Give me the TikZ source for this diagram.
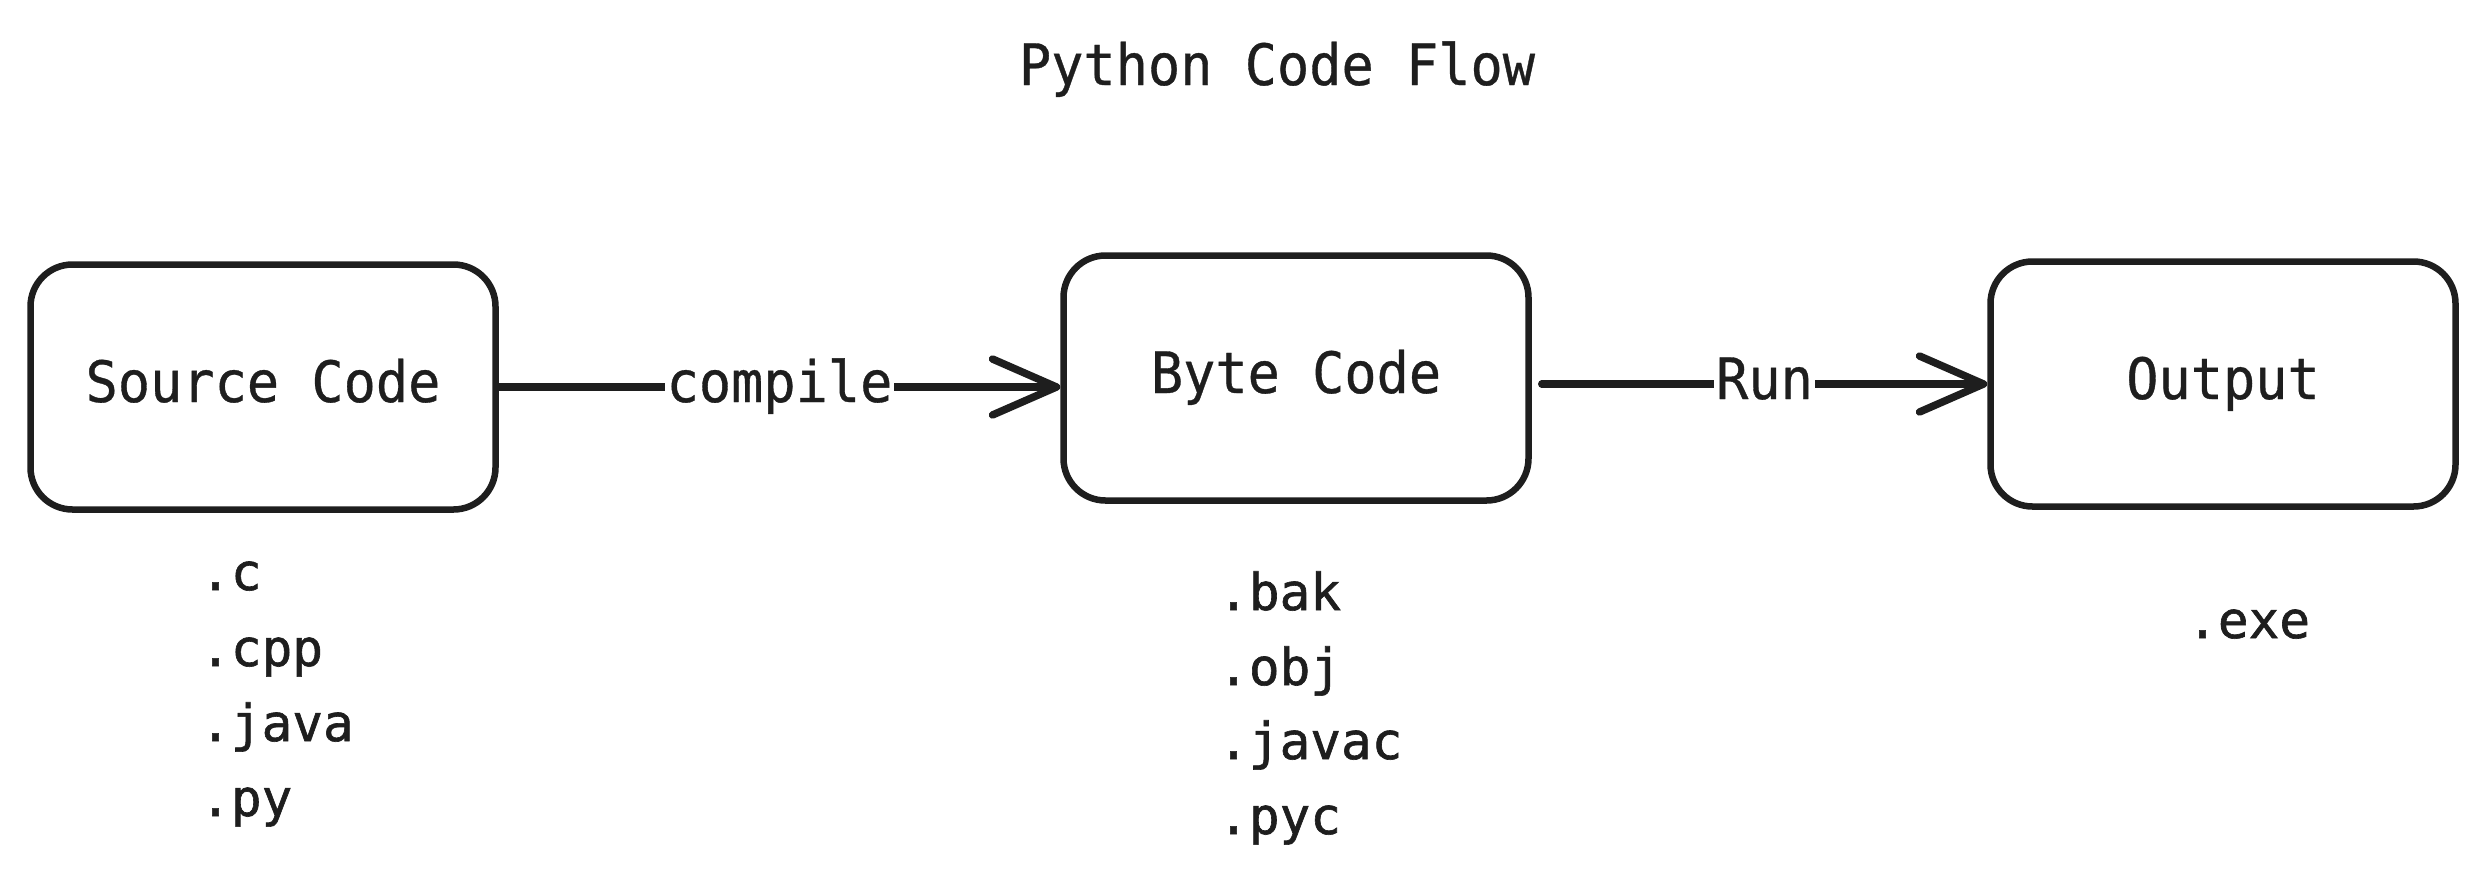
\documentclass[tikz,border=0pt]{standalone}
\usepackage{fontspec}
\usetikzlibrary{arrows.meta}
\newfontfamily\lblfont[FakeStretch=0.94,FakeBold=0.6]{DejaVu Sans Mono}
\newfontfamily\lstfont[FakeBold=1.2]{DejaVu Sans Mono}
\definecolor{ink}{HTML}{1E1E1E}
\tikzset{
  box/.style={draw=ink, line width=6.5pt, rounded corners=42pt, minimum width=465pt, minimum height=245pt, inner sep=0pt,
    font=\lblfont\fontsize{57}{60}\selectfont, text=ink, text height=40pt, text depth=10pt},
  lbl/.style={font=\lblfont\fontsize{57}{60}\selectfont, text=ink, text height=40pt, text depth=10pt, inner sep=2pt},
  edgelbl/.style={lbl, fill=white},
  ext/.style={font=\lstfont\fontsize{51}{55}\selectfont, text=ink, anchor=base west, inner sep=0pt},
  flow/.style={draw=ink, line width=7.5pt, line cap=round, -{Straight Barb[length=64pt, width=56pt, round]}}
}
\begin{document}
\begin{tikzpicture}[x=1pt, y=-1pt]
\useasboundingbox[fill=white] (0,0) rectangle (2484,887);
\node[lbl, anchor=base, inner sep=0pt] (title) at (1277,85) {Python Code Flow};
\node[box] (src) at (263,387) {Source Code};
\node[box] (byte) at (1296,378) {Byte Code};
\node[box] (out) at (2223,384) {Output};
\draw[flow] (src.east) -- node[edgelbl] (lc) {compile} (src.east -| byte.west);
\draw[flow] ([xshift=10pt]out.west -| byte.east) -- node[edgelbl] (lr) {Run} (out.west);
\node[ext] (s1) at (200,590) {.c};
\node[ext] (s2) at (200,666) {.cpp};
\node[ext] (s3) at (200,741) {.java};
\node[ext] (s4) at (200,816) {.py};
\node[ext] (b1) at (1218,610) {.bak};
\node[ext] (b2) at (1218,685) {.obj};
\node[ext] (b3) at (1218,759) {.javac};
\node[ext] (b4) at (1218,834) {.pyc};
\node[ext] (o1) at (2187,638) {.exe};
\end{tikzpicture}
\end{document}
